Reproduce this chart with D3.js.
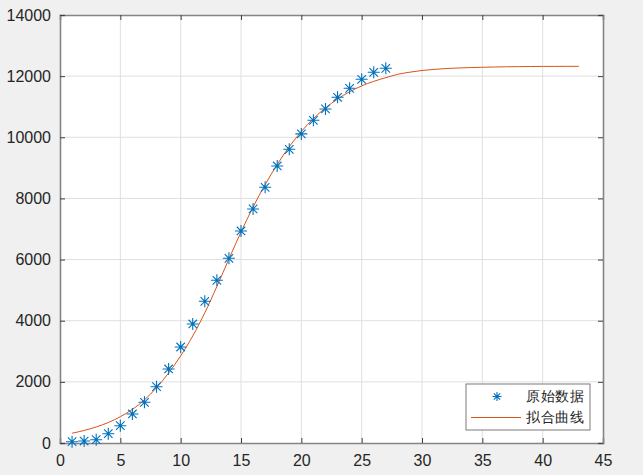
<!DOCTYPE html>
<html>
<head>
<meta charset="utf-8">
<script src="https://cdn.jsdelivr.net/npm/d3@7"></script>
<style>
  body { margin: 0; background: #f0f0f0; }
  svg { display: block; }
  text { font-family: "Liberation Sans", Arial, sans-serif; fill: #262626; }
</style>
</head>
<body>
<svg id="chart" width="643" height="475"></svg>
<script>
// raw observations (day 1..27)
const rawX = d3.range(1, 28);
const rawY = [43, 65, 108, 305, 566, 949, 1331, 1842, 2421, 3140, 3893, 4635, 5322, 6041,
  6935, 7655, 8364, 9061, 9607, 10110, 10556, 10926, 11309, 11603, 11897, 12126, 12257];

// fitted curve at x = 1..43
const fitX = d3.range(1, 44);
const fitY = [320, 410, 525, 670, 860, 1100, 1410, 1810, 2290, 2850, 3500, 4260, 5120, 6020,
  6900, 7720, 8450, 9110, 9690, 10190, 10610, 10960, 11250, 11490, 11680, 11830, 11950,
  12060, 12130, 12185, 12220, 12248, 12266, 12280, 12290, 12299, 12306, 12311, 12315,
  12318, 12320, 12321, 12322];

const xTicks = d3.range(0, 46, 5);
const yTicks = d3.range(0, 14001, 2000);
const legendLabels = ["原始数据", "拟合曲线"];

const blue = "#0072bd", orange = "#d95319";

const svg = d3.select("#chart");
const margin = { top: 15, right: 40, bottom: 32, left: 60 };
const width = 643 - margin.left - margin.right;
const height = 475 - margin.top - margin.bottom;
const g = svg.append("g").attr("transform", `translate(${margin.left},${margin.top})`);

const x = d3.scaleLinear().domain([0, 45]).range([0, width]);
const y = d3.scaleLinear().domain([0, 14000]).range([height, 0]);

g.append("rect").attr("width", width).attr("height", height).attr("fill", "#fff");

// grid
g.append("g").selectAll("line").data(xTicks.slice(1, -1)).join("line")
  .attr("x1", d => x(d)).attr("x2", d => x(d)).attr("y1", 0).attr("y2", height)
  .attr("stroke", "#dfdfdf").attr("stroke-width", 1);
g.append("g").selectAll("line").data(yTicks.slice(1, -1)).join("line")
  .attr("y1", d => y(d)).attr("y2", d => y(d)).attr("x1", 0).attr("x2", width)
  .attr("stroke", "#dfdfdf").attr("stroke-width", 1);

// axes (MATLAB style: ticks inward, box on)
const tk = 5;
const fmt = d3.format("d");
const xAxis = g.append("g").attr("transform", `translate(0,${height})`)
  .call(d3.axisBottom(x).tickValues(xTicks).tickSize(-tk).tickPadding(12).tickFormat(fmt));
const xTop = g.append("g")
  .call(d3.axisTop(x).tickValues(xTicks).tickSize(-tk).tickFormat(""));
const yAxis = g.append("g")
  .call(d3.axisLeft(y).tickValues(yTicks).tickSize(-tk).tickPadding(9).tickFormat(fmt));
const yRight = g.append("g").attr("transform", `translate(${width},0)`)
  .call(d3.axisRight(y).tickValues(yTicks).tickSize(-tk).tickFormat(""));

[xAxis, xTop, yAxis, yRight].forEach(a => {
  a.select(".domain").attr("stroke", "#858585").attr("stroke-width", 1.6);
  a.selectAll(".tick line").attr("stroke", "#404040").attr("stroke-width", 1);
  a.selectAll(".tick text").attr("font-size", 16).attr("fill", "#262626")
    .attr("font-family", "Liberation Sans, Arial, sans-serif");
});

// fitted curve
const line = d3.line().x(d => x(d[0])).y(d => y(d[1])).curve(d3.curveMonotoneX);
g.append("path")
  .datum(fitX.map((d, i) => [d, fitY[i]]))
  .attr("d", line)
  .attr("fill", "none").attr("stroke", orange).attr("stroke-width", 1);

// asterisk marker
function star(sel, r) {
  const p = [];
  for (let k = 0; k < 4; k++) {
    const a = k * Math.PI / 4;
    p.push(`M${-r * Math.cos(a)},${-r * Math.sin(a)}L${r * Math.cos(a)},${r * Math.sin(a)}`);
  }
  sel.attr("d", p.join("")).attr("stroke", blue).attr("stroke-width", 1.1).attr("fill", "none");
}

g.append("g").selectAll("path")
  .data(rawX.map((d, i) => [d, rawY[i]]))
  .join("path")
  .attr("transform", d => `translate(${x(d[0])},${y(d[1])})`)
  .call(star, 6);

// legend
const lg = svg.append("g").attr("transform", "translate(466,384)");
lg.append("rect").attr("width", 124).attr("height", 46)
  .attr("fill", "#fff").attr("stroke", "#7a7a7a").attr("stroke-width", 1);
lg.append("path").attr("transform", "translate(31,12.5)").call(star, 4.5);
lg.append("line").attr("x1", 5).attr("x2", 55).attr("y1", 33.5).attr("y2", 33.5)
  .attr("stroke", orange).attr("stroke-width", 1);
lg.selectAll("text.lab").data(legendLabels).join("text")
  .attr("class", "lab")
  .attr("x", 60).attr("y", (d, i) => 12.5 + i * 21)
  .attr("dy", "0.35em")
  .attr("font-size", 13.5)
  .attr("font-family", "Noto Sans CJK SC, sans-serif")
  .attr("textLength", 58)
  .text(d => d);
</script>
</body>
</html>
